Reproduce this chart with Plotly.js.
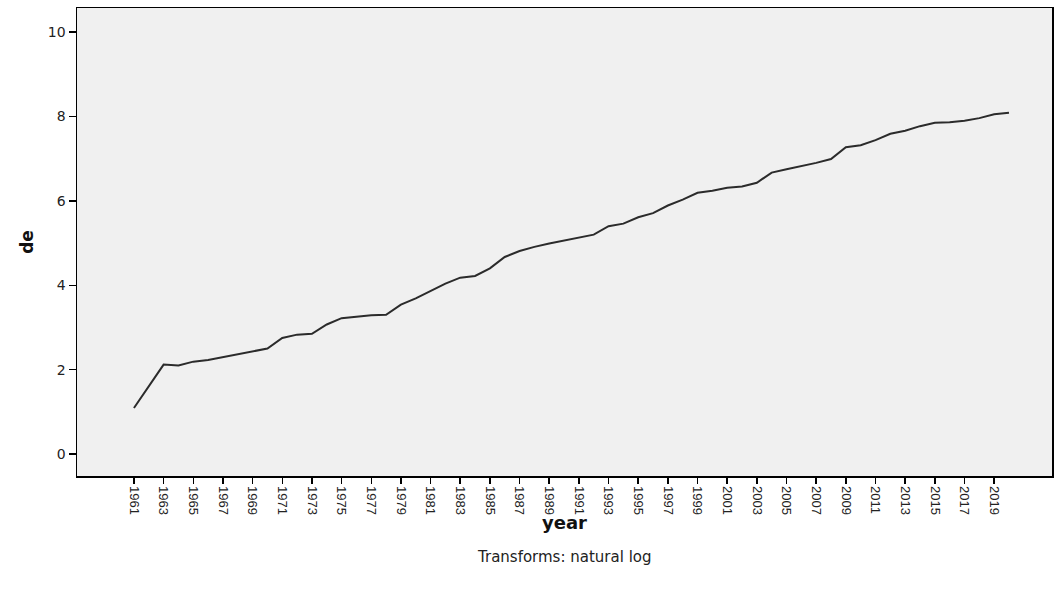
<!DOCTYPE html>
<html>
<head>
<meta charset="utf-8">
<script src="https://cdn.plot.ly/plotly-3.0.1.min.js"></script>
<style>
  html, body { margin: 0; padding: 0; background: #ffffff; }
  #chart { width: 1057px; height: 597px; }
</style>
</head>
<body>
<div id="chart"></div>
<script>
const years = [1961,1962,1963,1964,1965,1966,1967,1968,1969,1970,
  1971,1972,1973,1974,1975,1976,1977,1978,1979,1980,
  1981,1982,1983,1984,1985,1986,1987,1988,1989,1990,
  1991,1992,1993,1994,1995,1996,1997,1998,1999,2000,
  2001,2002,2003,2004,2005,2006,2007,2008,2009,2010,
  2011,2012,2013,2014,2015,2016,2017,2018,2019,2020];
const deValues = [1.09,1.62,2.12,2.10,2.19,2.23,2.30,2.37,2.43,2.50,
  2.75,2.83,2.85,3.07,3.22,3.26,3.29,3.30,3.54,3.69,
  3.87,4.04,4.18,4.22,4.40,4.67,4.81,4.91,4.99,5.06,
  5.12,5.20,5.40,5.46,5.61,5.71,5.89,6.03,6.19,6.24,
  6.31,6.34,6.43,6.67,6.75,6.82,6.90,6.99,7.27,7.32,
  7.44,7.59,7.66,7.77,7.85,7.86,7.90,7.96,8.05,8.09];
const xTickYears = [1961,1963,1965,1967,1969,1971,1973,1975,1977,1979,
  1981,1983,1985,1987,1989,1991,1993,1995,1997,1999,
  2001,2003,2005,2007,2009,2011,2013,2015,2017,2019];
const xTickLabels = xTickYears.map(String);
const yTickVals = [0,2,4,6,8,10];
const xTitle = "year";
const yTitle = "de";
const footnote = "Transforms: natural log";

const trace = {
  x: years,
  y: deValues,
  type: "scatter",
  mode: "lines",
  line: { color: "#2b2b2b", width: 2 },
  hoverinfo: "x+y"
};

const layout = {
  width: 1057,
  height: 597,
  margin: { l: 77, r: 5, t: 8, b: 121, pad: 0 },
  paper_bgcolor: "#ffffff",
  plot_bgcolor: "#f0f0f0",
  showlegend: false,
  font: { family: "Liberation Sans, Arial, sans-serif", size: 13, color: "#222" },
  xaxis: {
    type: "linear",
    range: [1957.16, 2022.9],
    tickmode: "array",
    tickvals: xTickYears,
    ticktext: xTickLabels,
    tickangle: 90,
    ticks: "outside",
    ticklen: 6,
    tickwidth: 1.5,
    tickcolor: "#000",
    showgrid: false,
    zeroline: false,
    showline: true,
    linecolor: "#000",
    linewidth: 1.5,
    mirror: true,
    automargin: false,
    tickfont: { family: "Liberation Sans, Arial, sans-serif", size: 13, color: "#222" }
  },
  yaxis: {
    range: [-0.52, 10.57],
    tickmode: "array",
    tickvals: yTickVals,
    ticks: "outside",
    ticklen: 7,
    tickwidth: 1.5,
    tickcolor: "#000",
    showgrid: false,
    zeroline: false,
    showline: true,
    linecolor: "#000",
    linewidth: 1.5,
    mirror: true,
    automargin: false,
    tickfont: { family: "DejaVu Sans, sans-serif", size: 14, color: "#222" },
    title: { text: yTitle, font: { family: "DejaVu Sans, sans-serif", size: 17, color: "#111", weight: "bold" }, standoff: 10 }
  },
  annotations: [{
    text: xTitle,
    xref: "paper", yref: "paper",
    x: 0.5, y: -0.1,
    xanchor: "center", yanchor: "middle",
    showarrow: false,
    font: { family: "DejaVu Sans, sans-serif", size: 18, color: "#111", weight: "bold" }
  }, {
    text: footnote,
    xref: "paper", yref: "paper",
    x: 0.5, y: -0.173,
    xanchor: "center", yanchor: "middle",
    showarrow: false,
    font: { family: "DejaVu Sans, sans-serif", size: 15, color: "#222" }
  }]
};

Plotly.newPlot("chart", [trace], layout, { displayModeBar: false, staticPlot: true });
</script>
</body>
</html>
